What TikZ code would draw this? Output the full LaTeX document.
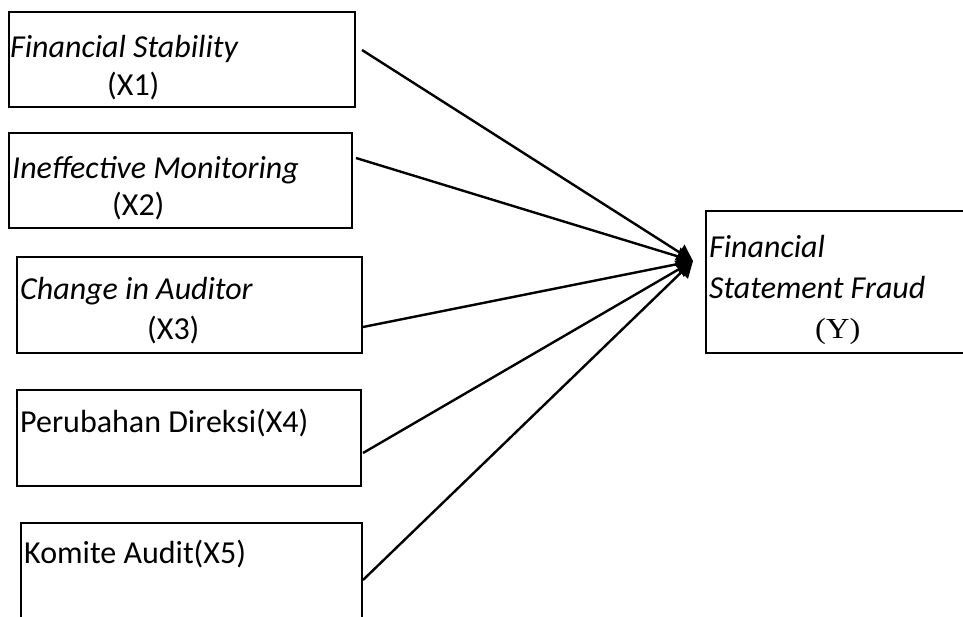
\documentclass[tikz,border=0pt]{standalone}
\usepackage{fontspec}
\setmainfont{Carlito}
\newfontfamily\tnr{Liberation Serif}
\usetikzlibrary{arrows.meta}
\begin{document}
\begin{tikzpicture}[x=1pt,y=-1pt,
  box/.style={draw=black,line width=2.4pt,rectangle,inner sep=0pt,outer sep=0pt},
  lbl/.style={anchor=base west,inner sep=0pt,font=\fontsize{32}{38}\selectfont},
  ilbl/.style={lbl,font=\fontsize{32}{38}\selectfont\itshape},
  conn/.style={line width=2.4pt,-{Triangle[length=16pt,width=18pt]}}]
\useasboundingbox (0,0) rectangle (963,616);
\clip (0,0) rectangle (963,616);
\fill[white] (0,0) rectangle (963,616);
% boxes
\node[box,minimum width=346pt,minimum height=95pt] (b1) at (182,59.5) {};
\node[box,minimum width=343pt,minimum height=95pt] (b2) at (180.5,180.5) {};
\node[box,minimum width=345pt,minimum height=96pt] (b3) at (189.5,305) {};
\node[box,minimum width=344pt,minimum height=96pt] (b4) at (189,438) {};
\node[box,minimum width=341pt,minimum height=137pt] (b5) at (191.5,591.5) {};
\node[box,minimum width=294pt,minimum height=142pt] (by) at (853,282) {};
% labels
\node[ilbl] (t1a) at (10,57) {Financial Stability};
\node[lbl] (t1b) at (107,95) {(X1)};
\node[ilbl] (t2a) at (12,178) {Ineffective Monitoring};
\node[lbl] (t2b) at (112,215) {(X2)};
\node[ilbl] (t3a) at (20,299) {Change in Auditor};
\node[lbl] (t3b) at (147,339) {(X3)};
\node[lbl] (t4) at (20,432) {Perubahan Direksi(X4)};
\node[lbl] (t5) at (24,563) {Komite Audit(X5)};
\node[ilbl] (tya) at (709,257) {Financial};
\node[ilbl] (tyb) at (709,298) {Statement Fraud};
\node[anchor=base west,inner sep=0pt,font=\fontsize{29}{34}\tnr,xscale=1.12,transform shape] (tyc) at (815,338) {(Y)};
% connectors
\coordinate (s1) at (362,50);
\coordinate (s2) at (356,158);
\coordinate (s3) at (363,327);
\coordinate (s4) at (363,453);
\coordinate (s5) at (363,580);
\coordinate (tip) at (693,261);
\foreach \s in {s1,s2,s3,s4,s5} \draw[conn] (\s) -- (tip);
\end{tikzpicture}
\end{document}
